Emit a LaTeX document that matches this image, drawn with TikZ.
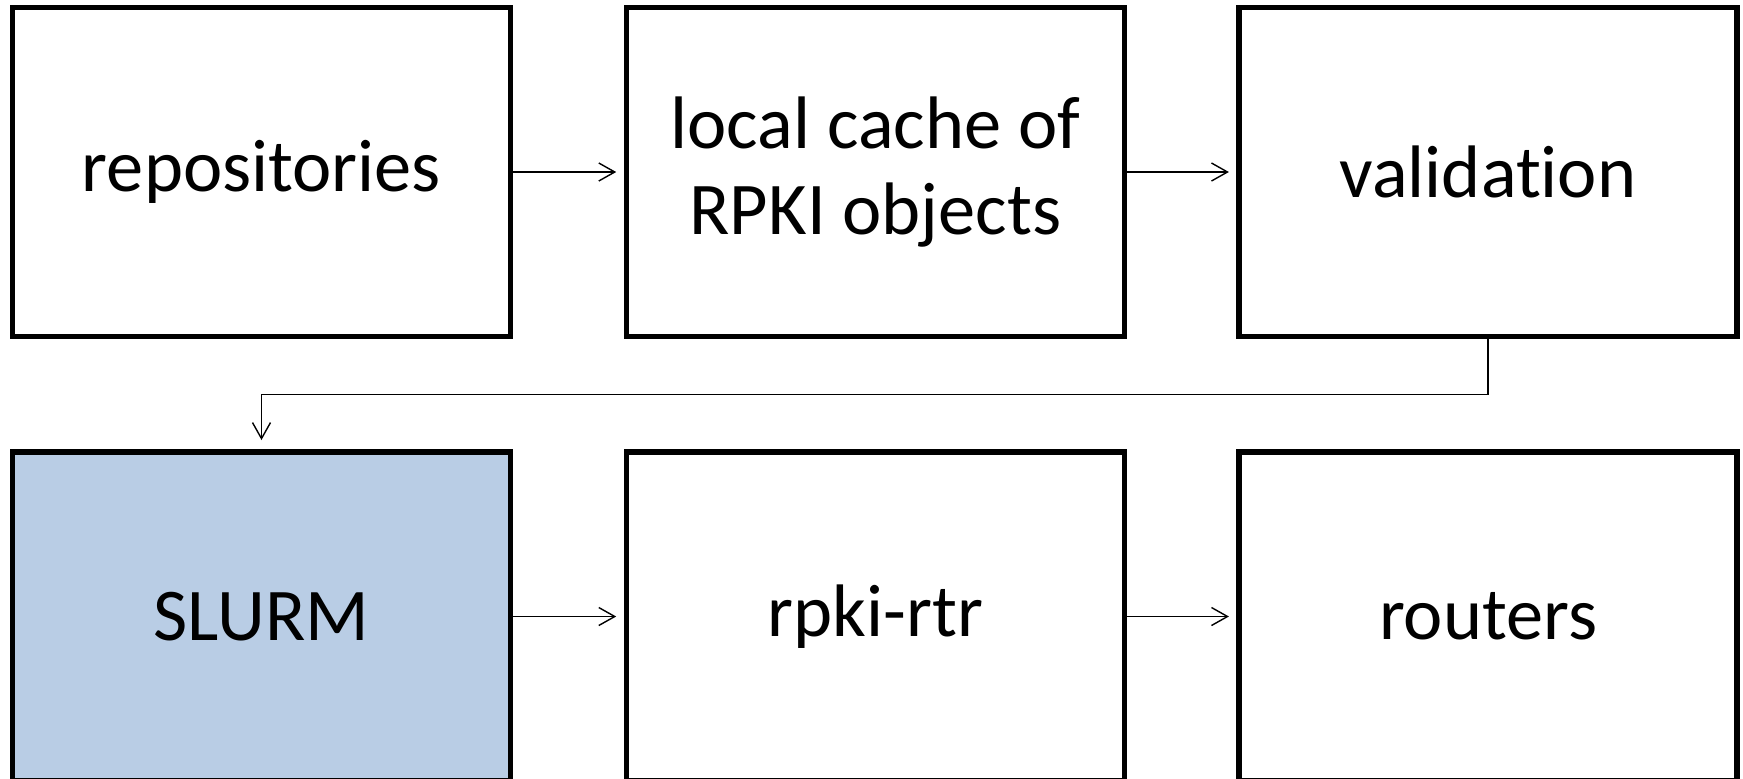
\documentclass[tikz,border=0pt]{standalone}
\usepackage{fontspec}
\setmainfont[Ligatures=CommonOff]{Carlito}
\usetikzlibrary{arrows.meta}
\definecolor{slurmblue}{RGB}{185,205,229}
\begin{document}
\begin{tikzpicture}[x=0.5pt,y=-0.5pt,
  box/.style={draw=black,line width=2.6pt,minimum width=249pt,minimum height=164.5pt,
    inner sep=0pt,align=center,font=\fontsize{37.2}{42.8}\selectfont},
  arr/.style={draw=black,line width=0.7pt,-{Straight Barb[length=8pt,width=9pt]},shorten >=3.75pt}
]
\useasboundingbox (0,0) rectangle (1743,778);
\clip (0,0) rectangle (1743,778);
\node[box] (rep) at (261.5,172) {repositories};
\node[box] (cache) at (875.3,172) {local cache of\\RPKI objects};
\node[box] (val) at (1488,172) {validation};
\node[box,fill=slurmblue] (slurm) at (261.5,616.5) {SLURM};
\node[box] (rtr) at (875.3,616.5) {rpki-rtr};
\node[box] (rout) at (1488,616.5) {routers};
\coordinate (bend) at (1488,394.5);
\draw[arr] (rep.east) -- (cache.west);
\draw[arr] (cache.east) -- (val.west);
\draw[arr,shorten >=4.7pt] (val.south) -- (bend) -| (slurm.north);
\draw[arr] (slurm.east) -- (rtr.west);
\draw[arr] (rtr.east) -- (rout.west);
\end{tikzpicture}
\end{document}
